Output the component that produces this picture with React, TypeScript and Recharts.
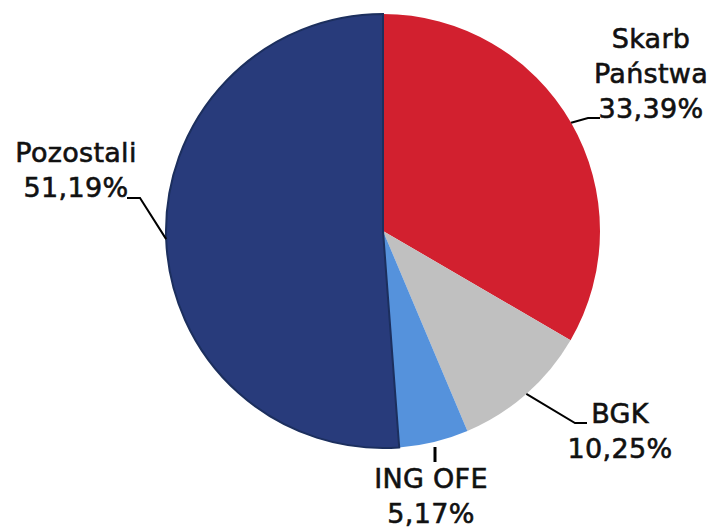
import React from "react";
import { PieChart, Pie, Cell } from "recharts";

const names = ["Skarb\nPaństwa", "BGK", "ING OFE", "Pozostali"];
const values = [33.39, 10.25, 5.17, 51.19];
const colors = ["#D2202F", "#C0C0C0", "#5592DC", "#283B7B"];
const strokes = ["none", "none", "none", "#1C2F5E"];

const data = names.map((n, i) => ({ name: n, value: values[i] }));

// label layout: text center offset from pie center, leader points offsets from pie center
const labelLayout = [
  { tx: 268, ty: -183, line: [[205, -113], [217, -113]], fromEdge: true, w: 2 },
  { tx: 237, ty: 192, line: [[192, 192], [204, 192]], fromEdge: true, w: 2 },
  { tx: 48, ty: 257, line: [[52, 231]], fromEdge: false, start: [52, 216], w: 3 },
  { tx: -307, ty: -69, line: [[-243, -33], [-256, -33]], fromEdge: true, w: 2 },
];

const RADIAN = Math.PI / 180;
const fmt = (v: number) => v.toFixed(2).replace(".", ",") + "%";

const renderLabel = (props: any) => {
  const { cx, cy, midAngle, outerRadius, index } = props;
  const L = labelLayout[index];
  const ex = cx + outerRadius * Math.cos(-midAngle * RADIAN);
  const ey = cy + outerRadius * Math.sin(-midAngle * RADIAN);
  const pts: number[][] = [];
  if (L.fromEdge) pts.push([ex, ey]);
  else pts.push([cx + (L as any).start[0], cy + (L as any).start[1]]);
  L.line.forEach((p) => pts.push([cx + p[0], cy + p[1]]));
  const lines = [...names[index].split("\n"), fmt(values[index])];
  return (
    <g key={`lbl-${index}`}>
      <polyline
        points={pts.map((p) => p.join(",")).join(" ")}
        fill="none"
        stroke="#000"
        strokeWidth={L.w}
      />
      <text
        x={cx + L.tx}
        y={cy + L.ty}
        textAnchor="middle"
        fontFamily="DejaVu Sans"
        fontSize={27}
        fill="#111"
        stroke="#111"
        strokeWidth={0.6}
        letterSpacing={0.3}
      >
        {lines.map((t, i) => (
          <tspan key={i} x={cx + L.tx} dy={i === 0 ? 0 : 35}>
            {t}
          </tspan>
        ))}
      </text>
    </g>
  );
};

export default function App() {
  return (
    <div style={{ position: "absolute", left: 0, top: 0, width: 710, height: 528, background: "#fff" }}>
      <PieChart width={710} height={528} margin={{ top: 0, right: 0, bottom: 0, left: 0 }}>
        <Pie
          data={data}
          dataKey="value"
          nameKey="name"
          cx={383}
          cy={231}
          outerRadius={217}
          startAngle={90}
          endAngle={-270}
          isAnimationActive={false}
          label={renderLabel}
          labelLine={false}
        >
          {data.map((d, i) => (
            <Cell key={i} fill={colors[i]} stroke={strokes[i]} strokeWidth={i === 3 ? 2 : 0} />
          ))}
        </Pie>
      </PieChart>
    </div>
  );
}
